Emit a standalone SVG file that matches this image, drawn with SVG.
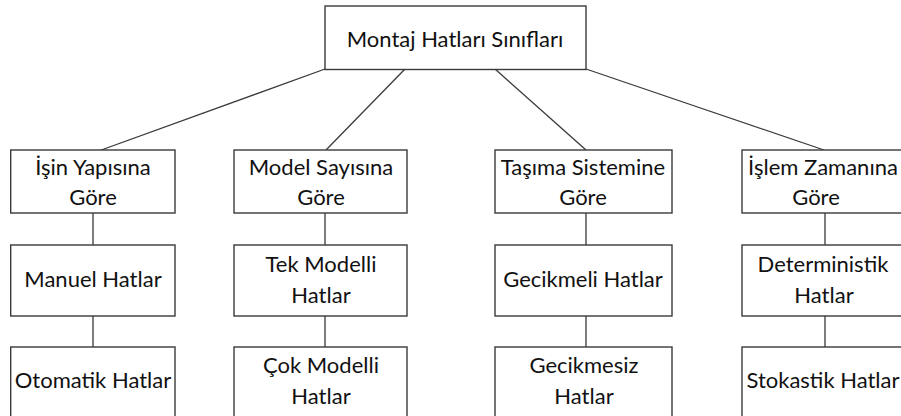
<svg xmlns="http://www.w3.org/2000/svg" width="901" height="416" viewBox="0 0 901 416">
<style>
rect{fill:#fff;stroke:#3a3a3a;stroke-width:1.4}
line{stroke:#3a3a3a;stroke-width:1.3}
text{font-family:Lato,"Open Sans",sans-serif;font-size:22px;fill:#111;text-anchor:middle}
</style>
<rect x="0" y="0" width="901" height="416" style="stroke:none"/>
<g id="connectors">
<line x1="325" y1="69" x2="93" y2="153"/>
<line x1="405" y1="69" x2="326" y2="150"/>
<line x1="495" y1="69" x2="586" y2="150"/>
<line x1="586" y1="69" x2="824" y2="150"/>
<line x1="93" y1="213" x2="93" y2="245"/>
<line x1="93" y1="316" x2="93" y2="347"/>
<line x1="325" y1="213" x2="325" y2="245"/>
<line x1="325" y1="316" x2="325" y2="347"/>
<line x1="586" y1="213" x2="586" y2="245"/>
<line x1="586" y1="316" x2="586" y2="347"/>
<line x1="825" y1="213" x2="825" y2="245"/>
<line x1="825" y1="316" x2="825" y2="347"/>
</g>
<g id="root"><rect x="325" y="6" width="261" height="63.5"/><text x="455" y="46.5">Montaj Hatları Sınıfları</text></g>
<g id="n1"><rect x="10.7" y="150" width="164.3" height="63"/><text x="93" y="175">İşin Yapısına</text><text x="93" y="205">Göre</text></g>
<g id="n2"><rect x="234" y="150" width="173" height="63"/><text x="321" y="175">Model Sayısına</text><text x="321" y="205">Göre</text></g>
<g id="n3"><rect x="495" y="150" width="177" height="63"/><text x="583" y="175">Taşıma Sistemine</text><text x="583" y="205">Göre</text></g>
<g id="n4"><rect x="742" y="150" width="166" height="63"/><text x="823" y="175">İşlem Zamanına</text><text x="816" y="205">Göre</text></g>
<g id="n1a"><rect x="10.7" y="245" width="164.3" height="71"/><text x="93" y="287">Manuel Hatlar</text></g>
<g id="n2a"><rect x="234" y="245" width="173" height="71"/><text x="321" y="272">Tek Modelli</text><text x="321" y="303">Hatlar</text></g>
<g id="n3a"><rect x="495" y="245" width="177" height="71"/><text x="583" y="287">Gecikmeli Hatlar</text></g>
<g id="n4a"><rect x="742" y="245" width="166" height="71"/><text x="823" y="272">Deterministik</text><text x="824" y="303">Hatlar</text></g>
<g id="n1b"><rect x="10.7" y="347" width="164.3" height="80"/><text x="93" y="388">Otomatik Hatlar</text></g>
<g id="n2b"><rect x="234" y="347" width="173" height="80"/><text x="321" y="373">Çok Modelli</text><text x="321" y="404">Hatlar</text></g>
<g id="n3b"><rect x="495" y="347" width="177" height="80"/><text x="584" y="373">Gecikmesiz</text><text x="584" y="404">Hatlar</text></g>
<g id="n4b"><rect x="742" y="347" width="166" height="80"/><text x="823" y="388">Stokastik Hatlar</text></g>
</svg>
